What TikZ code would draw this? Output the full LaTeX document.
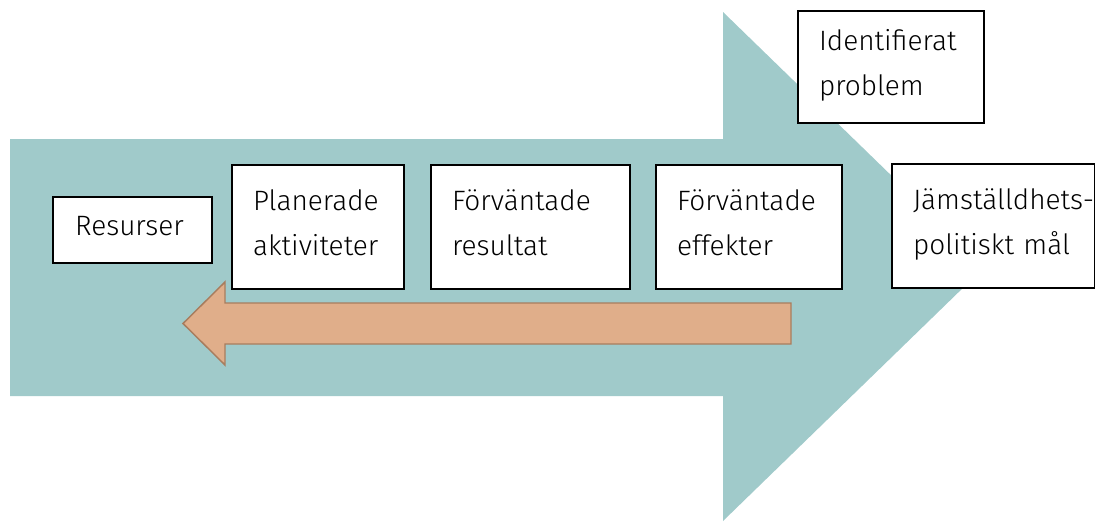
\documentclass[tikz,border=0pt]{standalone}
\usepackage{fontspec}
\setmainfont{Fira Sans Light}
\definecolor{tealbg}{RGB}{160,202,202}
\definecolor{orfill}{RGB}{224,174,138}
\definecolor{ordraw}{RGB}{168,125,94}
\newcommand{\lowpad}{\rule[-6.75pt]{0pt}{6.75pt}}
\tikzset{
  stepbox/.style={draw=black, line width=1.1pt, fill=white, align=left, inner xsep=0pt, inner ysep=0pt,
    font={\fontsize{21}{34}\selectfont}},
}
\begin{document}
\begin{tikzpicture}[x=0.75pt,y=-0.75pt]
\useasboundingbox (0,0) rectangle (1095,521);
% big teal arrow
\fill[tealbg] (10,139) -- (723,139) -- (723,12) -- (985,266.5) -- (723,521) -- (723,396) -- (10,396) -- cycle;
% orange back arrow
\filldraw[fill=orfill, draw=ordraw, line width=1.1pt, line join=miter]
  (791,303) -- (225,303) -- (225,282) -- (183,323.5) -- (225,365) -- (225,344) -- (791,344) -- cycle;
% boxes
\node[stepbox, minimum width=119.25pt, minimum height=49.5pt, text width=86pt] (res) at (132.5,230) {Resurser\lowpad};
\node[stepbox, minimum width=129pt, minimum height=93pt, text width=97.5pt] (akt) at (318,227) {Planerade\\aktiviteter\lowpad};
\node[stepbox, minimum width=149.25pt, minimum height=93pt, text width=117.75pt] (resu) at (530.5,227) {Förväntade\\resultat\lowpad};
\node[stepbox, minimum width=139.5pt, minimum height=93pt, text width=108pt] (eff) at (749,227) {Förväntade\\effekter\lowpad};
\node[stepbox, minimum width=152.25pt, minimum height=93pt, text width=120.75pt] (mal) at (993.5,226) {\mbox{Jämställdhets-}\\\mbox{politiskt mål}\lowpad};
\node[stepbox, minimum width=139.5pt, minimum height=84pt, text width=108pt] (prob) at (891,67) {Identifierat\\problem\lowpad};
\end{tikzpicture}
\end{document}
